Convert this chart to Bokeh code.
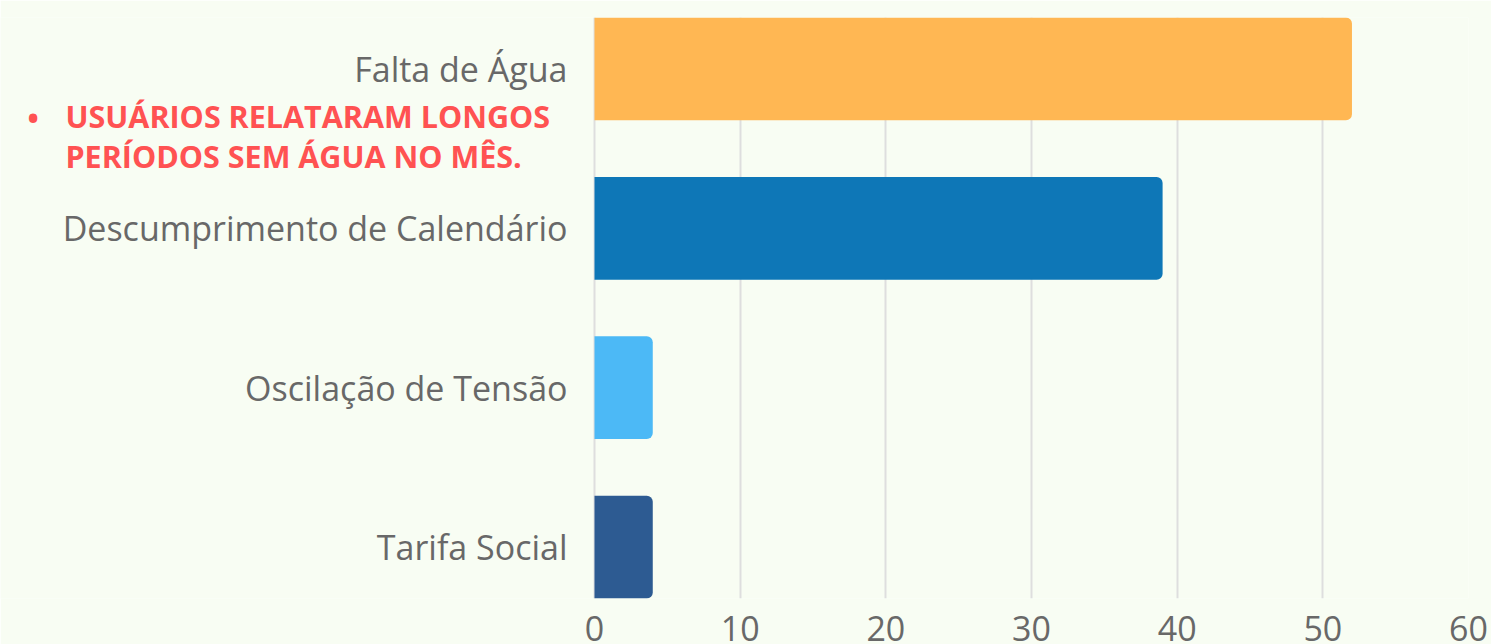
from bokeh.plotting import figure
from bokeh.models import Range1d, FixedTicker, Label, ColumnDataSource
from bokeh.core.properties import value
from bokeh.embed import file_html
from bokeh.resources import INLINE

# ---- data ----
categories = ["Falta de Água", "Descumprimento de Calendário", "Oscilação de Tensão", "Tarifa Social"]
values = [52, 39, 4, 4]
bar_colors = ["#ffb753", "#0e77b7", "#4cb9f6", "#2d5b92"]
x_ticks = [0, 10, 20, 30, 40, 50, 60]
note_lines = ["USUÁRIOS RELATARAM LONGOS", "PERÍODOS SEM ÁGUA NO MÊS."]

BG = "#f8fdf3"
FONT = "Open Sans"
GREY = "#686868"
RED = "#ff5252"

n = len(categories)
ypos = [n - 1 - i for i in range(n)]
src = ColumnDataSource(dict(y=ypos, v=values, c=bar_colors, cat=categories,
                            x0=[0] * n))

# The frame spans the label area too, so that the note in the left margin is not clipped.
p = figure(frame_width=1468, frame_height=581, output_backend="svg", toolbar_location=None,
           x_range=Range1d(-40.778, 60), y_range=Range1d(-0.3225, 3.3225),
           min_border_left=0, min_border_right=23, min_border_top=17, min_border_bottom=46)

p.background_fill_color = BG
p.border_fill_color = BG
p.outline_line_color = None

p.hbar(y="y", right="v", left=0, height=0.645, color="c", line_color=None,
       border_radius=(0, 6, 6, 0), source=src)

# category labels (left of the zero line)
p.text(x="x0", y="y", text="cat", source=src, x_offset=-27, text_align="right",
       text_baseline="middle", text_font=value(FONT), text_font_size="34px", text_color=GREY)

# grid
p.ygrid.visible = False
p.xgrid.grid_line_color = "#dedede"
p.xgrid.grid_line_width = 2

# x axis
p.xaxis.ticker = FixedTicker(ticks=x_ticks)
p.xaxis.major_label_text_font = FONT
p.xaxis.major_label_text_font_size = "34px"
p.xaxis.major_label_text_color = GREY
p.xaxis.major_label_standoff = 17
p.xaxis.axis_line_color = None
p.xaxis.major_tick_line_color = None
p.xaxis.minor_tick_line_color = None
p.xaxis.major_tick_out = 0
p.xaxis.major_tick_in = 0

p.yaxis.visible = False

# red note
p.add_layout(Label(x=-38.53, y=2.693, text="•", text_align="center", text_baseline="alphabetic",
                   text_font=FONT, text_font_size="30px", text_font_style="bold", text_color=RED))
for txt, yb in zip(note_lines, [2.705, 2.456]):
    p.add_layout(Label(x=-36.32, y=yb, text=txt, text_align="left", text_baseline="alphabetic",
                       text_font=FONT, text_font_size="30.5px", text_font_style="bold", text_color=RED))

open("out.html", "w").write(file_html(p, INLINE))
